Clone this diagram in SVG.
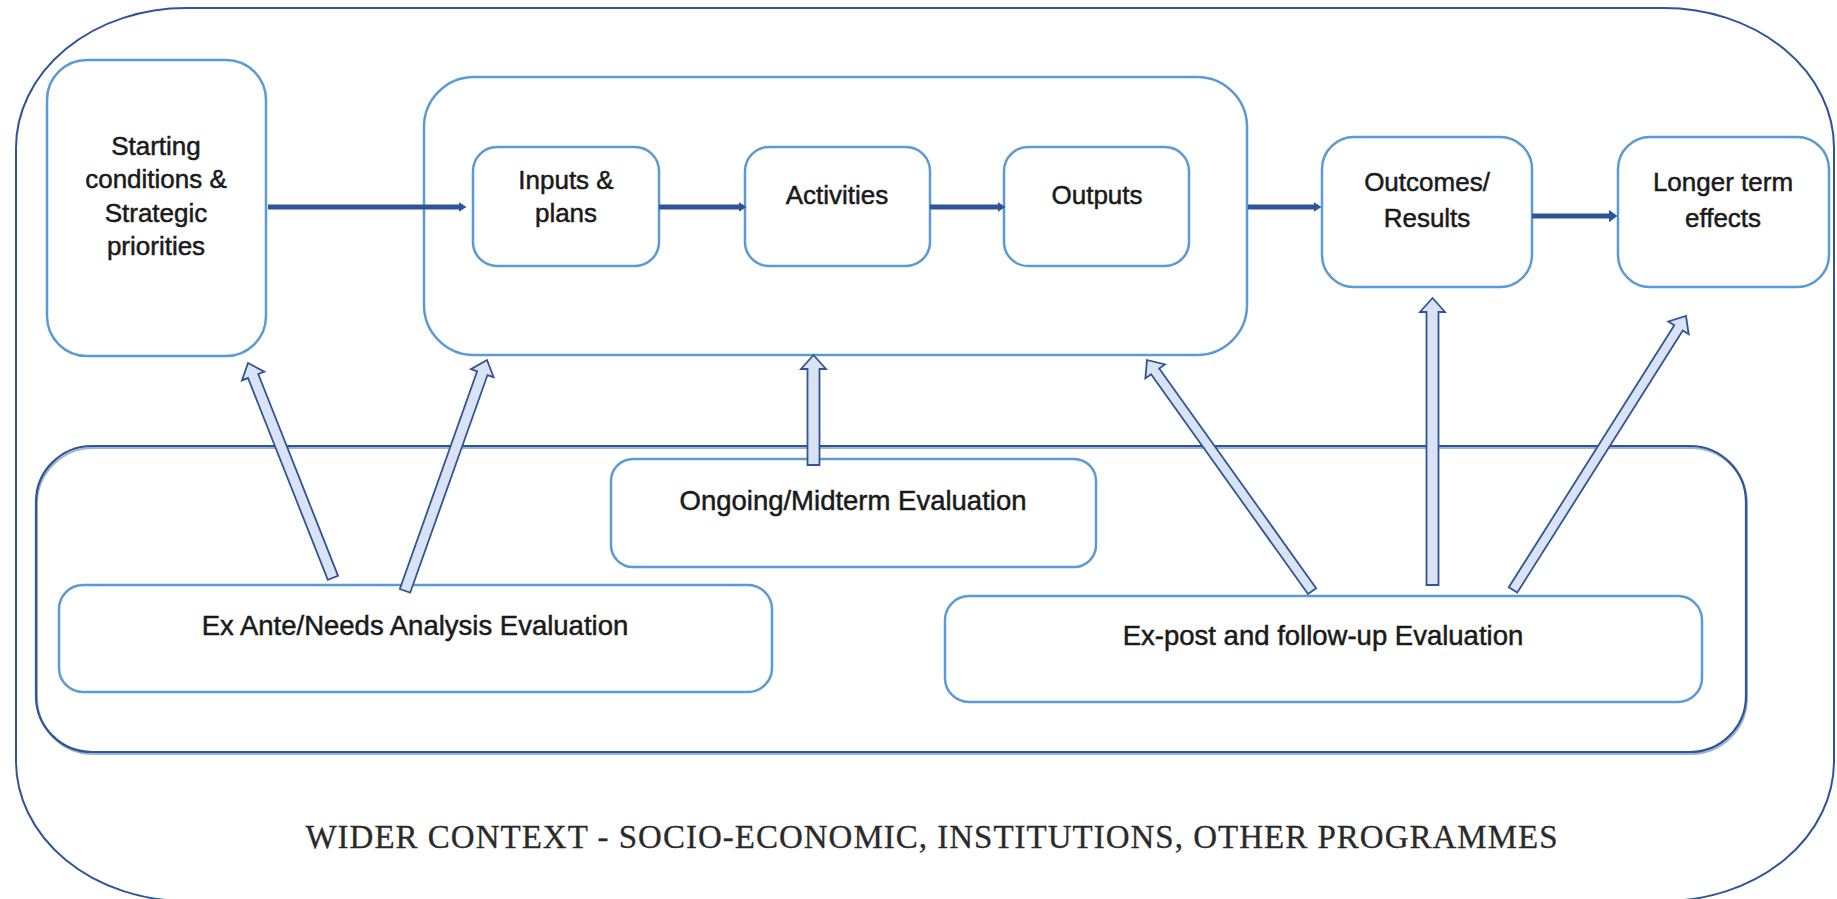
<svg xmlns="http://www.w3.org/2000/svg" width="1837" height="899" viewBox="0 0 1837 899">
<defs>
<style>
.box{fill:#ffffff;stroke:#5B9BD5;stroke-width:2.5}
.frame{fill:none;stroke:#2F5597;stroke-width:2}
.lbl{font-family:"Liberation Sans",Arial,sans-serif;font-size:26px;fill:#1a1a1a;stroke:#1a1a1a;stroke-width:0.5;text-anchor:middle}
.lbl2{font-family:"Liberation Sans",Arial,sans-serif;font-size:27.5px;fill:#1a1a1a;stroke:#1a1a1a;stroke-width:0.5;text-anchor:middle}
.ctx{font-family:"Liberation Serif","Times New Roman",serif;font-size:33px;fill:#2a2a2a;stroke:#2a2a2a;stroke-width:0.3;text-anchor:middle;letter-spacing:1px}
.flow{stroke:#2F5597;stroke-width:5;fill:none}
.blk{fill:#DAE3F3;stroke:#2F5597;stroke-width:1.8;stroke-linejoin:miter}
</style>
<marker id="ah" viewBox="0 0 8 10" markerUnits="userSpaceOnUse" markerWidth="8" markerHeight="10" refX="0.5" refY="5" orient="auto">
<path d="M0,0 L8,5 L0,10 z" fill="#2F5597"/>
</marker>
<marker id="ah2" viewBox="0 0 9 13" markerUnits="userSpaceOnUse" markerWidth="9" markerHeight="13" refX="0.5" refY="6.5" orient="auto">
<path d="M0,0 L9,6.5 L0,13 z" fill="#2F5597"/>
</marker>
</defs>
<rect width="1837" height="899" fill="#ffffff"/>

<g id="wider-context">
<rect class="frame" x="16" y="8" width="1818" height="893" rx="170" ry="140"/>
<text class="ctx" x="932" y="848">WIDER CONTEXT - SOCIO-ECONOMIC, INSTITUTIONS, OTHER PROGRAMMES</text>
</g>

<g id="evaluation-area">
<rect x="36" y="446" width="1710" height="306" rx="56" ry="56" fill="none" stroke="#9fb3d6" stroke-width="2" transform="translate(1,2)"/>
<rect x="36" y="446" width="1710" height="306" rx="56" ry="56" fill="none" stroke="#2F5597" stroke-width="2.2"/>
</g>

<g id="starting">
<rect class="box" x="47" y="60" width="219" height="296" rx="40"/>
<text class="lbl" x="156" y="155">Starting</text>
<text class="lbl" x="156" y="188">conditions &amp;</text>
<text class="lbl" x="156" y="222">Strategic</text>
<text class="lbl" x="156" y="255">priorities</text>
</g>

<g id="programme">
<rect class="box" x="424" y="77" width="823" height="278" rx="50"/>
</g>

<g id="inputs">
<rect class="box" x="473" y="147" width="186" height="119" rx="24"/>
<text class="lbl" x="566" y="189">Inputs &amp;</text>
<text class="lbl" x="566" y="222">plans</text>
</g>

<g id="activities">
<rect class="box" x="745" y="147" width="185" height="119" rx="24"/>
<text class="lbl" x="837" y="204">Activities</text>
</g>

<g id="outputs">
<rect class="box" x="1004" y="147" width="185" height="119" rx="24"/>
<text class="lbl" x="1097" y="204">Outputs</text>
</g>

<g id="outcomes">
<rect class="box" x="1322" y="137" width="210" height="150" rx="32"/>
<text class="lbl" x="1427" y="191">Outcomes/</text>
<text class="lbl" x="1427" y="227">Results</text>
</g>

<g id="longer-term">
<rect class="box" x="1618" y="137" width="211" height="150" rx="32"/>
<text class="lbl" x="1723" y="191">Longer term</text>
<text class="lbl" x="1723" y="227">effects</text>
</g>

<g id="ongoing">
<rect class="box" x="611" y="459" width="485" height="108" rx="22"/>
<text class="lbl2" x="853" y="510">Ongoing/Midterm Evaluation</text>
</g>

<g id="ex-ante">
<rect class="box" x="59" y="585" width="713" height="107" rx="24"/>
<text class="lbl2" x="415" y="635">Ex Ante/Needs Analysis Evaluation</text>
</g>

<g id="ex-post">
<rect class="box" x="945" y="596" width="757" height="106" rx="24"/>
<text class="lbl2" x="1323" y="645">Ex-post and follow-up Evaluation</text>
</g>

<g id="connectors">
<line class="flow" x1="268" y1="207" x2="459" y2="207" marker-end="url(#ah)"/>
<line class="flow" x1="659" y1="207" x2="739" y2="207" marker-end="url(#ah)"/>
<line class="flow" x1="930" y1="207" x2="998" y2="207" marker-end="url(#ah)"/>
<line class="flow" x1="1248" y1="207" x2="1314" y2="207" marker-end="url(#ah)"/>
<line class="flow" x1="1532" y1="216" x2="1609" y2="216" stroke-width="7" marker-end="url(#ah2)"/>

<path class="blk" transform="translate(248,363) rotate(-21.57)" d="M0,0 L12,14 L5.5,14 L5.5,231 L-5.5,231 L-5.5,14 L-12,14 Z"/>
<path class="blk" transform="translate(487,360) rotate(19.55)" d="M0,0 L12,14 L5.5,14 L5.5,245 L-5.5,245 L-5.5,14 L-12,14 Z"/>
<path class="blk" transform="translate(813.5,355) rotate(0)" d="M0,0 L12.5,14 L6,14 L6,110 L-6,110 L-6,14 L-12.5,14 Z"/>
<path class="blk" transform="translate(1147,360) rotate(-35.54)" d="M0,0 L12,14 L5,14 L5,284 L-5,284 L-5,14 L-12,14 Z"/>
<path class="blk" transform="translate(1432.5,298) rotate(0)" d="M0,0 L12.5,14 L6,14 L6,287 L-6,287 L-6,14 L-12.5,14 Z"/>
<path class="blk" transform="translate(1686,316) rotate(32.27)" d="M0,0 L12,14 L5,14 L5,324 L-5,324 L-5,14 L-12,14 Z"/>
</g>
</svg>
